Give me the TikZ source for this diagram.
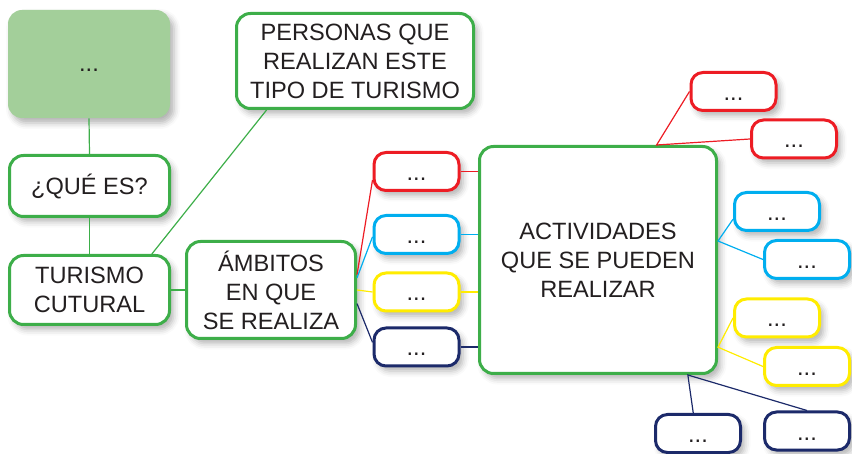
\documentclass[tikz,border=0pt]{standalone}
\usepackage{fontspec}
\setmainfont{Liberation Sans}
\usetikzlibrary{shadows.blur}

\definecolor{mapgreen}{RGB}{61,174,73}
\definecolor{hintgreen}{RGB}{163,207,154}
\definecolor{mapred}{RGB}{237,28,36}
\definecolor{mapblue}{RGB}{0,174,239}
\definecolor{mapyellow}{RGB}{255,236,0}
\definecolor{mapnavy}{RGB}{28,42,106}
\definecolor{ink}{RGB}{35,31,32}

\tikzset{
  softshadow/.style={blur shadow={shadow xshift=2pt, shadow yshift=-2.5pt, shadow blur radius=3pt, shadow opacity=30}},
  mapbox/.style={draw=#1, line width=1.5pt, rounded corners=7pt, fill=white, align=center, text=ink,
    font=\fontsize{11.8}{14.5}\selectfont, inner sep=2pt, softshadow},
  dotbox/.style={mapbox=#1, rounded corners=6pt, minimum width=42.5pt, minimum height=19pt, text height=9pt, text depth=0pt},
  link/.style={draw=#1, line width=0.6pt}
}

\begin{document}
\begin{tikzpicture}[x=0.5pt, y=-0.5pt]
                \useasboundingbox (0,0) rectangle (852,454);

                \node[fill=hintgreen, rounded corners=7pt, minimum width=81pt, minimum height=54pt, text=ink,
                      font=\fontsize{11.8}{14.5}\selectfont, text height=8pt, text depth=0pt, softshadow] (hint) at (89,64) {...};
                \node[mapbox=mapgreen, minimum width=80pt, minimum height=30.5pt] (que) at (89.5,186) {¿QUÉ ES?};
                \node[mapbox=mapgreen, minimum width=80pt, minimum height=34.5pt] (turismo) at (89.5,290) {TURISMO\\CUTURAL};
                \node[mapbox=mapgreen, minimum width=118.5pt, minimum height=47.5pt] (personas) at (355,61) {PERSONAS QUE\\REALIZAN ESTE\\TIPO DE TURISMO};
                \node[mapbox=mapgreen, minimum width=84.5pt, minimum height=48.5pt] (ambitos) at (271,290) {ÁMBITOS\\EN QUE\\SE REALIZA};
                \node[mapbox=mapgreen, minimum width=118.5pt, minimum height=113.5pt] (activ) at (598,260) {ACTIVIDADES\\QUE SE PUEDEN\\REALIZAR};

                \node[dotbox=mapred] (amb red) at (416.5,171.5) {...};
                \node[dotbox=mapblue] (amb blue) at (416.5,234.5) {...};
                \node[dotbox=mapyellow] (amb yellow) at (416.5,292) {...};
                \node[dotbox=mapnavy] (amb navy) at (416.5,347) {...};

                \node[dotbox=mapred] (act red a) at (733.5,91.5) {...};
                \node[dotbox=mapred] (act red b) at (794,139) {...};
                \node[dotbox=mapblue] (act blue a) at (777,211.5) {...};
                \node[dotbox=mapblue] (act blue b) at (807,259.5) {...};
                \node[dotbox=mapyellow] (act yellow a) at (777,318) {...};
                \node[dotbox=mapyellow] (act yellow b) at (807,366.5) {...};
                \node[dotbox=mapnavy] (act navy a) at (698,433.5) {...};
                \node[dotbox=mapnavy] (act navy b) at (807,431) {...};

                \draw[link=mapgreen] (hint.south) -- (que.north);
                \draw[link=mapgreen] (que.south) -- (turismo.north);
                \draw[link=mapgreen] (turismo.30) -- (personas.209);
                \draw[link=mapgreen] (turismo.east) -- (ambitos.west);

                \draw[link=mapred] (ambitos.10) -- (amb red.191);
                \draw[link=mapblue] (ambitos.8) -- (amb blue.183);
                \draw[link=mapyellow] (ambitos.east) -- (amb yellow.west);
                \draw[link=mapnavy] (ambitos.-9) -- (amb navy.174);

                \draw[link=mapred] (amb red.east) -- (amb red.east -| activ.west);
                \draw[link=mapblue] (amb blue.east) -- (amb blue.east -| activ.west);
                \draw[link=mapyellow] (amb yellow.east) -- (amb yellow.east -| activ.west);
                \draw[link=mapnavy] (amb navy.east) -- (amb navy.east -| activ.west);

                \draw[link=mapred] (act red a.west) -- (activ.63) -- (act red b.west);
                \draw[link=mapblue] (act blue a.190) -- (activ.9.5) -- (act blue b.west);
                \draw[link=mapyellow] (act yellow a.west) -- (activ.-36) -- (act yellow b.west);
                \draw[link=mapnavy] (act navy a.103) -- (activ.-52.6) -- (act navy b.north);
\end{tikzpicture}
\end{document}
